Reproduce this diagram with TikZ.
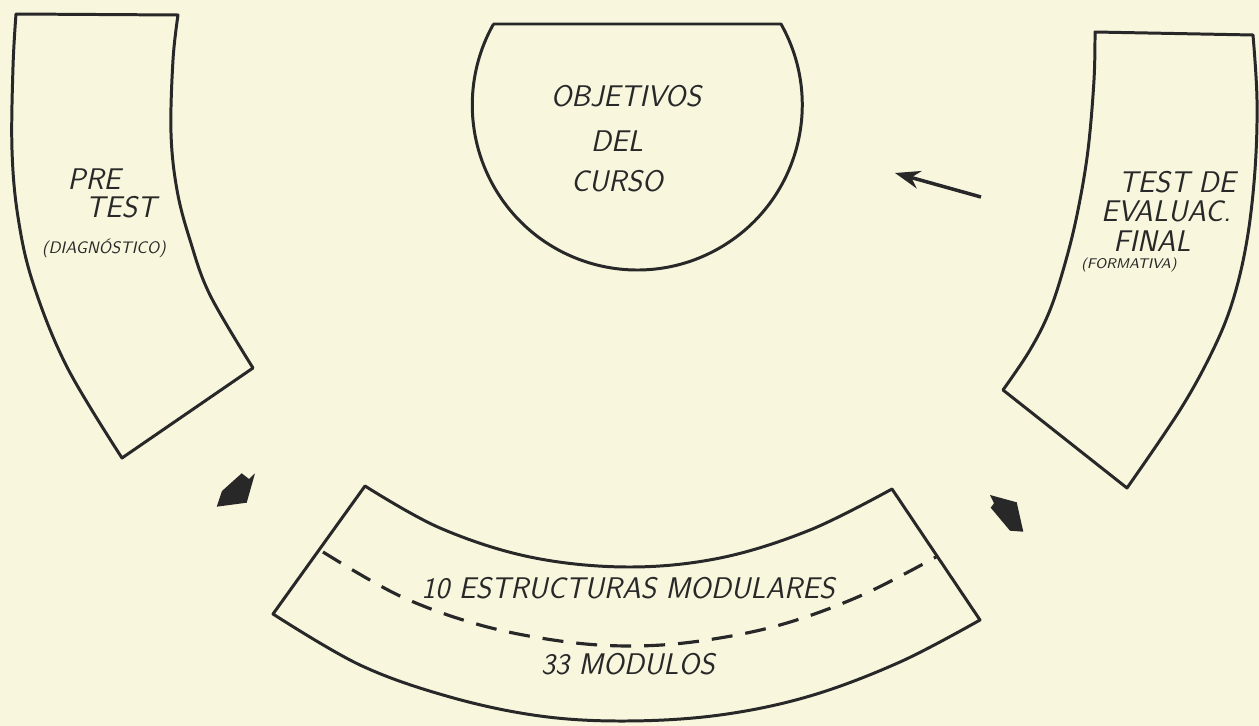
\documentclass[tikz,border=0pt]{standalone}
\usepackage{fontspec}
\usetikzlibrary{arrows.meta}
\definecolor{paper}{RGB}{248,246,221}
\definecolor{ink}{RGB}{40,40,40}
\tikzset{
	band/.style={draw=ink,line width=1.7pt,line join=round},
	bigtext/.style={text=ink,inner sep=0pt,font=\sffamily\itshape\fontsize{17}{20}\selectfont},
	smalltext/.style={text=ink,inner sep=0pt,font=\sffamily\itshape\fontsize{9.5}{11}\selectfont},
	pointer/.style={draw=ink,line width=2pt,-{Stealth[length=0.5cm,width=0.36cm]}},
}
\begin{document}
\begin{tikzpicture}[x=0.02cm,y=-0.02cm]
		\useasboundingbox (0,0) rectangle (1259,726);
		\fill[paper] (0,0) rectangle (1259,726);
		% objetivos
		\draw[band] (493,24) -- (781,24) arc[start angle=-29.4,end angle=209.4,radius=165];
		\node[bigtext] (obj) at (626,96) {OBJETIVOS};
		\node[bigtext] (del) at (617,141) {DEL};
		\node[bigtext] (curso) at (617,181) {CURSO};
		% pre test
		\draw[band] plot[smooth,tension=.6] coordinates{(178,15) (173,60) (171,133) (177,190) (190,240) (210,295) (253,368)}
			-- plot[smooth,tension=.6] coordinates{(122,458) (67,367) (33,283) (18,217) (12,150) (13,67) (16,14)} -- cycle;
		\node[bigtext] (pre) at (94,179) {PRE};
		\node[bigtext] (test) at (121,207) {TEST};
		\node[smalltext] (diag) at (104,248) {(DIAGNÓSTICO)};
		% test final
		\draw[band] plot[smooth,tension=.6] coordinates{(1253,35) (1257,100) (1255,170) (1247,240) (1233,300) (1213,350) (1180,410) (1127,488)}
			-- plot[smooth,tension=.6] coordinates{(1003,390) (1030,350) (1050,310) (1066,260) (1078,210) (1088,150) (1094,80) (1095,32)} -- cycle;
		\node[bigtext] (testde) at (1177,182) {TEST DE};
		\node[bigtext] (evaluac) at (1166,211) {EVALUAC.};
		\node[bigtext] (final) at (1152,241) {FINAL};
		\node[smalltext,font=\sffamily\itshape\fontsize{8}{9}\selectfont] (formativa) at (1129,265) {(FORMATIVA)};
		% modulos
		\draw[band] plot[smooth,tension=.6] coordinates{(365,486) (440,528) (530,557) (627,567) (720,558) (810,530) (892,489)}
			-- plot[smooth,tension=.6] coordinates{(980,620) (900,662) (810,696) (720,715) (627,721) (540,716) (450,697) (360,665) (273,614)} -- cycle;
		\draw[ink,line width=1.8pt,dash pattern=on 0.42cm off 0.26cm] plot[smooth,tension=.6] coordinates{(323,552) (400,596) (480,625) (560,641) (630,646) (700,641) (780,625) (860,596) (936,557)};
		\node[bigtext] (estruct) at (628,588) {10 ESTRUCTURAS MODULARES};
		\node[bigtext] (modulos) at (628,664) {33 MODULOS};
		% flechas
		\coordinate (finaltail) at (981,197);
		\coordinate (objtip) at (895,173);
		\draw[pointer] (finaltail) -- (objtip);
		\fill[ink] (216.7,506.7) -- (222,491) -- (241.7,473.3) -- (249,479) -- (255,473.3) -- (246.7,502.7) -- cycle;
		\fill[ink] (990,495) -- (1016.7,502.3) -- (1023.3,531.7) -- (1010,530.7) -- (990.7,507.7) -- (994,503.3) -- cycle;
\end{tikzpicture}
\end{document}
